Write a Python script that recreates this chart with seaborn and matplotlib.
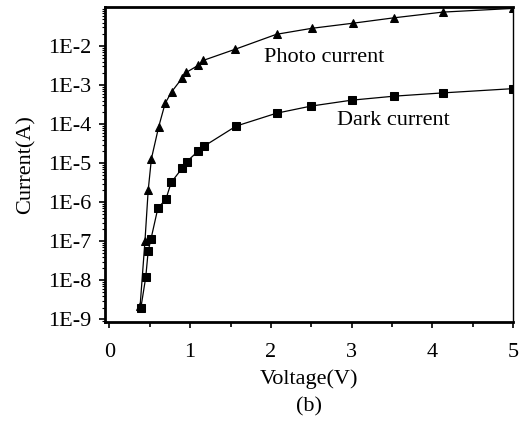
import numpy as np
import pandas as pd
import matplotlib
matplotlib.use("Agg")
import matplotlib.pyplot as plt
import matplotlib.ticker as mticker
import seaborn as sns

# ---- data ----
photo_v = [0.38, 0.44, 0.48, 0.52, 0.61, 0.69, 0.77, 0.90, 0.95, 1.10, 1.165, 1.56,
           2.07, 2.51, 3.02, 3.53, 4.13, 5.0]
photo_i = [2.2e-9, 1.0e-7, 2.0e-6, 1.3e-5, 8.5e-5, 3.4e-4, 6.7e-4, 1.5e-3, 2.1e-3,
           3.2e-3, 4.3e-3, 8.3e-3, 2.0e-2, 2.85e-2, 3.85e-2, 5.3e-2, 7.4e-2, 9.2e-2]
dark_v = [0.39, 0.45, 0.48, 0.515, 0.60, 0.70, 0.765, 0.905, 0.96, 1.095, 1.17, 1.57,
          2.07, 2.50, 3.0, 3.53, 4.13, 5.0]
dark_i = [2.0e-9, 1.2e-8, 5.6e-8, 1.15e-7, 7.0e-7, 1.2e-6, 3.2e-6, 7.6e-6, 1.1e-5,
          2.0e-5, 2.7e-5, 8.9e-5, 1.9e-4, 2.9e-4, 4.1e-4, 5.2e-4, 6.3e-4, 8.1e-4]
series_names = ["Photo current", "Dark current"]
x_ticks = [0, 1, 2, 3, 4, 5]
y_ticks = [1e-9, 1e-8, 1e-7, 1e-6, 1e-5, 1e-4, 1e-3, 1e-2]

df = pd.concat([
    pd.DataFrame({"V": photo_v, "I": photo_i, "series": series_names[0]}),
    pd.DataFrame({"V": dark_v, "I": dark_i, "series": series_names[1]}),
], ignore_index=True)

sns.set_theme(style="ticks")
plt.rcParams["font.family"] = ["Liberation Serif", "DejaVu Serif"]
plt.rcParams["font.size"] = 16

fig = plt.figure(figsize=(5.21, 4.21), dpi=100)
ax = fig.add_axes([105 / 521, (421 - 322) / 421, 408 / 521, 315 / 421])

sns.lineplot(data=df, x="V", y="I", style="series", markers={series_names[0]: "^", series_names[1]: "s"},
             dashes=False, color="black", estimator=None, sort=False, legend=False,
             linewidth=0.9, markersize=6, markeredgecolor="black", ax=ax)

ax.set_yscale("log")
ax.set_xlim(-0.055, 5.0)
ax.set_ylim(10 ** -9.07, 1e-1)
ax.set_xticks(x_ticks)
ax.xaxis.set_minor_locator(mticker.MultipleLocator(0.5))
ax.set_yticks(y_ticks)
ax.yaxis.set_major_formatter(mticker.FuncFormatter(lambda v, p: "1E%d" % int(round(np.log10(v)))))
ax.yaxis.set_minor_locator(mticker.LogLocator(base=10, subs=np.arange(2, 10) * 1.0, numticks=100))
ax.yaxis.set_minor_formatter(mticker.NullFormatter())

ax.tick_params(axis="both", which="major", direction="out", length=4, width=1.2,
               labelsize=16, color="black", labelcolor="black")
ax.tick_params(axis="y", which="major", pad=6)
ax.tick_params(axis="x", which="major", pad=11)
ax.tick_params(axis="y", which="minor", direction="out", length=2, width=0.8, color="black")
ax.tick_params(axis="x", which="minor", direction="out", length=3.5, width=1.2, color="black")

for side in ["left", "bottom", "top"]:
    ax.spines[side].set_linewidth(2.0)
ax.spines["right"].set_linewidth(1.0)
for s in ax.spines.values():
    s.set_color("black")
    s.set_visible(True)

ax.set_xlabel("Voltage(V)", fontsize=16, labelpad=5, color="black")
ax.set_ylabel("Current(A)", fontsize=16, labelpad=9, color="black")

ax.text(1.91, 10 ** -2.30, "Photo current", fontsize=16, ha="left", va="center", color="black")
ax.text(2.82, 10 ** -3.90, "Dark current", fontsize=16, ha="left", va="center", color="black")

fig.text((105 + 513) / 2 / 521, 1 - 407 / 421, "(b)", fontsize=16, ha="center", va="center", color="black")

fig.savefig("out.png", dpi=100)
